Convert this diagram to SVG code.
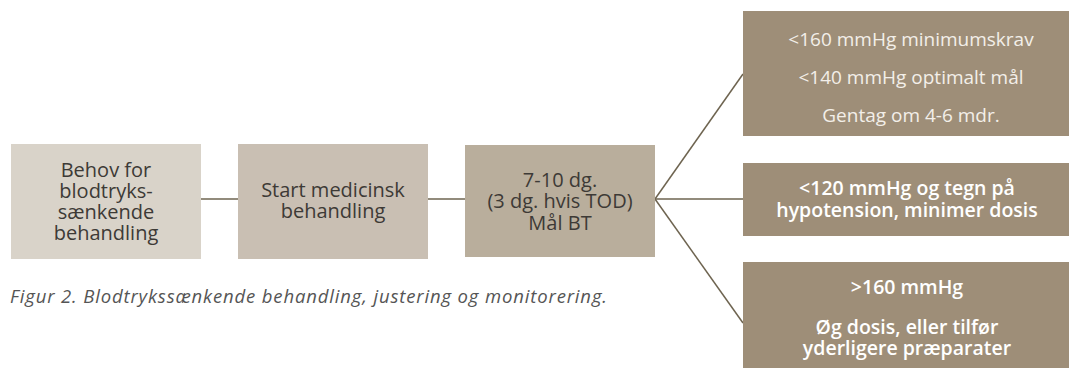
<svg xmlns="http://www.w3.org/2000/svg" width="1069" height="370" viewBox="0 0 1069 370">
<style>
.t{font-family:"Open Sans","Liberation Sans",sans-serif;font-size:20px;text-anchor:middle;fill:#3d3a36}
.w{font-family:"Open Sans","Liberation Sans",sans-serif;font-size:19px;text-anchor:middle;fill:#f3efe9}
.b{font-size:19.5px;font-weight:600;fill:#ffffff}
.c{stroke:#6e6450;stroke-width:1.5;fill:none}
.cap{font-family:"Open Sans","Liberation Sans",sans-serif;font-size:18.5px;font-style:italic;fill:#555}
</style>
<rect width="1069" height="370" fill="#fff"/>
<g id="connectors">
<line class="c" x1="201" y1="199" x2="238" y2="199"/>
<line class="c" x1="428" y1="199" x2="465" y2="199"/>
<line class="c" x1="655" y1="199" x2="743" y2="74"/>
<line class="c" x1="655" y1="199" x2="743" y2="199"/>
<line class="c" x1="655" y1="199" x2="743" y2="323"/>
</g>
<g id="n1">
<rect x="11" y="144" width="190" height="115" fill="#d9d3c9"/>
<text class="t" x="106" y="177">Behov for</text>
<text class="t" x="106" y="198">blodtryks-</text>
<text class="t" x="106" y="219">sænkende</text>
<text class="t" x="106" y="240">behandling</text>
</g>
<g id="n2">
<rect x="238" y="144" width="190" height="115" fill="#c9bfb3"/>
<text class="t" x="333" y="197">Start medicinsk</text>
<text class="t" x="333" y="218">behandling</text>
</g>
<g id="n3">
<rect x="465" y="145" width="190" height="112" fill="#b9ae9c"/>
<text class="t" x="560" y="187">7-10 dg.</text>
<text class="t" x="560" y="208">(3 dg. hvis TOD)</text>
<text class="t" x="560" y="230">Mål BT</text>
</g>
<g id="n4">
<rect x="743" y="11" width="326" height="125" fill="#9e8e78"/>
<text class="w" x="911" y="46">&lt;160 mmHg minimumskrav</text>
<text class="w" x="911" y="84">&lt;140 mmHg optimalt mål</text>
<text class="w" x="911" y="122">Gentag om 4-6 mdr.</text>
</g>
<g id="n5">
<rect x="743" y="163" width="326" height="73" fill="#9e8e78"/>
<text class="w b" x="907" y="195">&lt;120 mmHg og tegn på</text>
<text class="w b" x="907" y="217">hypotension, minimer dosis</text>
</g>
<g id="n6">
<rect x="743" y="262" width="326" height="106" fill="#9e8e78"/>
<text class="w b" x="907" y="294">&gt;160 mmHg</text>
<text class="w b" x="907" y="334">Øg dosis, eller tilfør</text>
<text class="w b" x="907" y="355">yderligere præparater</text>
</g>
<text class="cap" x="10" y="303" textLength="597" lengthAdjust="spacing">Figur 2. Blodtrykssænkende behandling, justering og monitorering.</text>
</svg>
